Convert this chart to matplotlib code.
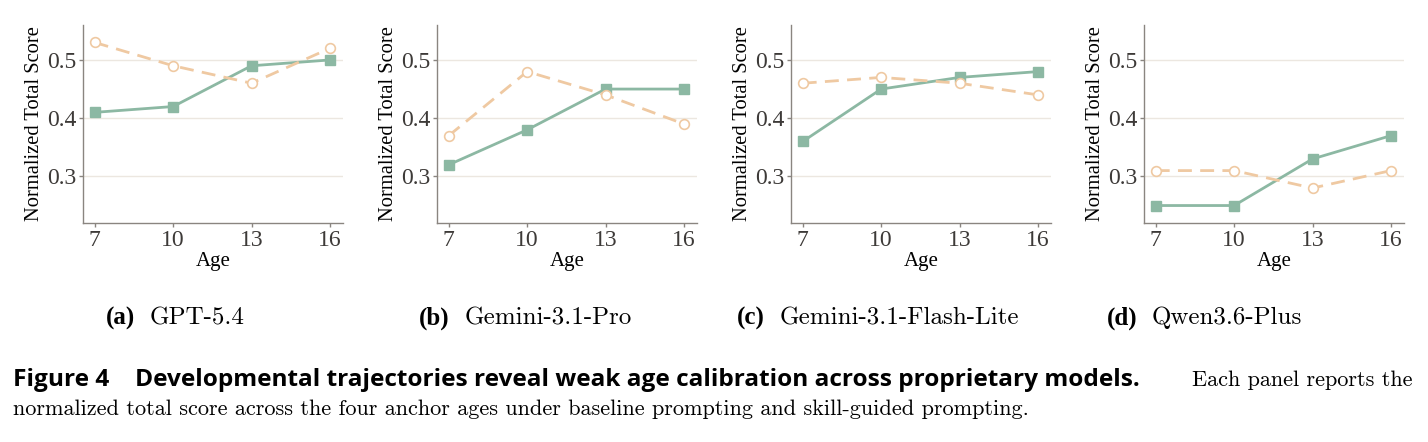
import matplotlib
matplotlib.use("Agg")
import matplotlib.pyplot as plt

# --- Data ---
ages = [7, 10, 13, 16]
models = ["GPT-5.4", "Gemini-3.1-Pro", "Gemini-3.1-Flash-Lite", "Qwen3.6-Plus"]
panel_tags = ["(a)", "(b)", "(c)", "(d)"]

skill_scores = [
    [0.41, 0.42, 0.49, 0.50],
    [0.32, 0.38, 0.45, 0.45],
    [0.36, 0.45, 0.47, 0.48],
    [0.25, 0.25, 0.33, 0.37],
]
baseline_scores = [
    [0.53, 0.49, 0.46, 0.52],
    [0.37, 0.48, 0.44, 0.39],
    [0.46, 0.47, 0.46, 0.44],
    [0.31, 0.31, 0.28, 0.31],
]

green = "#8cb8a3"
orange = "#efc9a2"
spine_col = "#8a8580"
text_col = "#3d3a38"
serif = ["Liberation Serif", "DejaVu Serif"]

W, H = 1428, 442
fig = plt.figure(figsize=(W / 100, H / 100), dpi=100)

lefts = [83, 437, 791, 1144]
ax_w = 260
ax_top, ax_bot = 25, 223

for i, left in enumerate(lefts):
    ax = fig.add_axes([left / W, 1 - ax_bot / H, ax_w / W, (ax_bot - ax_top) / H])
    ax.plot(ages, skill_scores[i], "-s", color=green, lw=2, ms=7,
            markeredgecolor=green, zorder=3)
    ax.plot(ages, baseline_scores[i], "--o", color=orange, lw=2, ms=7,
            markerfacecolor="white", markeredgecolor=orange, markeredgewidth=1.2,
            dashes=(5, 3), zorder=3)
    ax.set_xlim(6.55, 16.5)
    ax.set_ylim(0.22, 0.56)
    ax.set_xticks(ages)
    ax.set_yticks([0.3, 0.4, 0.5])
    ax.yaxis.grid(True, color="#ece7e0", lw=1)
    ax.set_axisbelow(True)
    for s in ["top", "right"]:
        ax.spines[s].set_visible(False)
    for s in ["left", "bottom"]:
        ax.spines[s].set_color(spine_col)
        ax.spines[s].set_linewidth(1)
    ax.tick_params(length=3, width=1, color=spine_col, labelcolor=text_col,
                   labelsize=17, pad=2)
    for lab in ax.get_xticklabels() + ax.get_yticklabels():
        lab.set_family(serif)
    ax.set_xlabel("Age", family=serif, fontsize=15, color="black", labelpad=1)
    ax.set_ylabel("Normalized Total Score", family=serif, fontsize=14.8,
                  color="black", labelpad=2)

# sub-captions
tag_right = [135, 450, 765, 1137]
for i in range(4):
    fig.text(tag_right[i] / W, 1 - 318 / H, panel_tags[i], ha="right", va="center",
             family=serif, weight="bold", fontsize=18)
    fig.text((tag_right[i] + 15) / W, 1 - 318 / H, models[i], ha="left", va="center",
             family="cmr10", fontsize=18)

# figure caption
fig.text(13 / W, 1 - 380 / H, "Figure 4", ha="left", va="center",
         family="Open Sans", weight="bold", fontsize=17.6)
fig.text(135 / W, 1 - 380 / H,
         "Developmental trajectories reveal weak age calibration across proprietary models.",
         ha="left", va="center", family="Open Sans", weight="bold", fontsize=17.6)
fig.text(1413 / W, 1 - 380 / H, "Each panel reports the", ha="right", va="center",
         family="cmr10", fontsize=16)
fig.text(13 / W, 1 - 409 / H,
         "normalized total score across the four anchor ages under baseline prompting and skill-guided prompting.",
         ha="left", va="center", family="cmr10", fontsize=16)

fig.savefig("out.png", dpi=100, facecolor="white")
